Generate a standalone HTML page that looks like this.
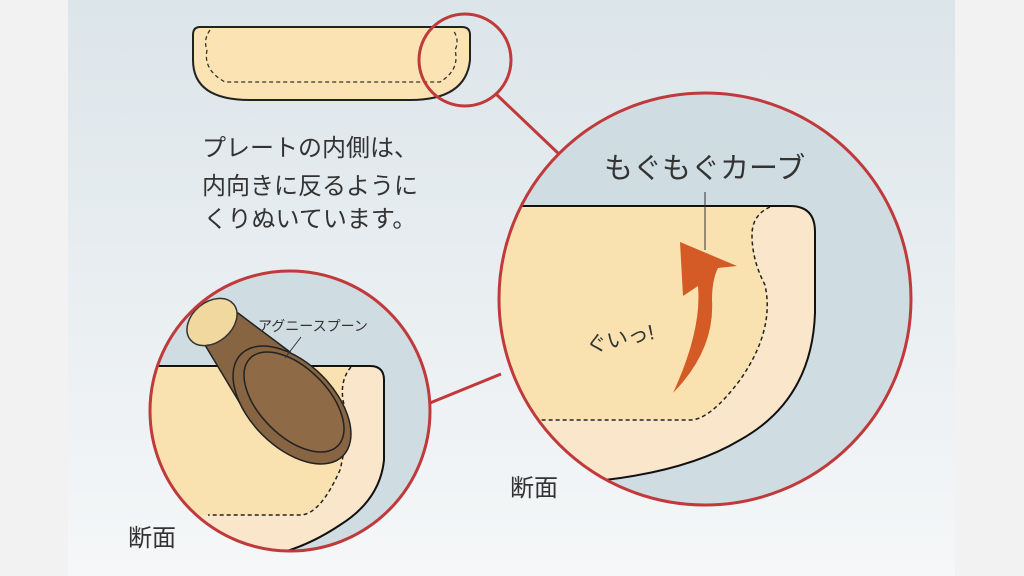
<!DOCTYPE html>
<html><head><meta charset="utf-8"><style>
html,body{margin:0;padding:0;width:1024px;height:576px;overflow:hidden;background:#f2f2f2}
svg{display:block}
text{font-family:"Liberation Sans","Noto Sans CJK JP",sans-serif;fill:#333}
</style></head><body>
<svg width="1024" height="576" viewBox="0 0 1024 576">
<defs>
<linearGradient id="bg" x1="0" y1="0" x2="0" y2="1">
<stop offset="0" stop-color="#dce5ea"/><stop offset="1" stop-color="#f5f7f8"/>
</linearGradient>
<clipPath id="cb"><circle cx="705" cy="299" r="206"/></clipPath>
<clipPath id="cs"><circle cx="290" cy="411" r="140"/></clipPath>
</defs>
<rect x="0" y="0" width="1024" height="576" fill="#f2f2f2"/>
<rect x="68" y="0" width="887" height="576" fill="url(#bg)"/>

<!-- top plate -->
<path d="M200 27 H462 Q470 27 470 35 V60 Q466 100 410 100 H250 Q193 100 193 60 V35 Q193 27 200 27Z" fill="#fbe3b4" stroke="#222" stroke-width="2"/>
<path d="M210 30 Q203 40 207 50 Q203 70 225 82 H440 Q460 70 455 50 Q460 40 453 30" fill="none" stroke="#333" stroke-width="1.3" stroke-dasharray="4 3"/>
<circle cx="465" cy="60" r="46" fill="none" stroke="#c0393b" stroke-width="3"/>
<line x1="496" y1="94" x2="560" y2="155" stroke="#c0393b" stroke-width="3"/>

<text x="310" y="156" font-size="24" text-anchor="middle">プレートの内側は、</text>
<text x="310" y="194" font-size="24" text-anchor="middle">内向きに反るように</text>
<text x="310" y="227" font-size="24" text-anchor="middle">くりぬいています。</text>

<!-- big circle -->
<circle cx="705" cy="299" r="206" fill="#cfdde3"/>
<g clip-path="url(#cb)">
<path d="M480 206 H790 Q815 206 815 232 V313 Q812 400 740 440 Q690 470 605 480 L480 490Z" fill="#f9e6cb" stroke="#111" stroke-width="2"/>
<path d="M480 208 H770 Q752 215 752 235 Q752 260 765 285 Q775 330 740 380 Q710 420 690 420 H480Z" fill="#fae2b0"/>
<path d="M770 207 Q752 215 752 235 Q752 260 765 285 Q775 330 740 380 Q710 420 690 420 H540" fill="none" stroke="#222" stroke-width="1.5" stroke-dasharray="4 3"/>
<path d="M673 393 Q715 350 712 300 Q712 280 718 268 L737 266 L680 242 L683 296 L698 286 Q702 330 673 393Z" fill="#d45a26"/>
<line x1="705" y1="192" x2="705" y2="250" stroke="#333" stroke-width="1"/>
</g>
<circle cx="705" cy="299" r="206" fill="none" stroke="#c0393b" stroke-width="3"/>
<text x="604" y="178" font-size="29">もぐもぐカーブ</text>
<text x="586" y="346" font-size="21" transform="rotate(-12 620 340)">ぐいっ!</text>
<text x="510" y="496" font-size="24">断面</text>

<line x1="425" y1="405" x2="501" y2="374" stroke="#c0393b" stroke-width="3"/>

<!-- small circle -->
<circle cx="290" cy="411" r="140" fill="#cfdde3"/>
<g clip-path="url(#cs)">
<path d="M140 366 H370 Q384 366 384 380 V460 Q380 500 340 525 Q310 545 280 553 L140 560Z" fill="#f9e6cb" stroke="#111" stroke-width="2"/>
<path d="M140 368 H350 Q340 380 343 400 Q350 430 340 470 Q320 515 300 515 H140Z" fill="#fae2b0"/>
<path d="M351 367 Q340 380 343 400 Q350 430 340 470 Q320 515 300 515 H208" fill="none" stroke="#222" stroke-width="1.5" stroke-dasharray="4 3"/>
<path d="M205 345 L238 313 L290 352 L250 420Z" fill="#876442" stroke="#222" stroke-width="1.5"/>
<ellipse cx="212" cy="322" rx="28" ry="20" transform="rotate(-40 212 322)" fill="#f0d89e" stroke="#333" stroke-width="1.5"/>
<path d="M205 345 L238 313 L240 312" fill="none"/>
<ellipse cx="292" cy="405" rx="72" ry="42" transform="rotate(45 292 405)" fill="#876442" stroke="#222" stroke-width="1.5"/>
<ellipse cx="294" cy="402" rx="62" ry="34" transform="rotate(45 294 402)" fill="#8e6b46" stroke="#222" stroke-width="1.5"/>
<line x1="285" y1="358" x2="301" y2="337" stroke="#333" stroke-width="1"/>
</g>
<circle cx="290" cy="411" r="140" fill="none" stroke="#c0393b" stroke-width="3"/>
<text x="258" y="331" font-size="14">アグニースプーン</text>
<text x="128" y="546" font-size="24">断面</text>
</svg>
</body></html>
